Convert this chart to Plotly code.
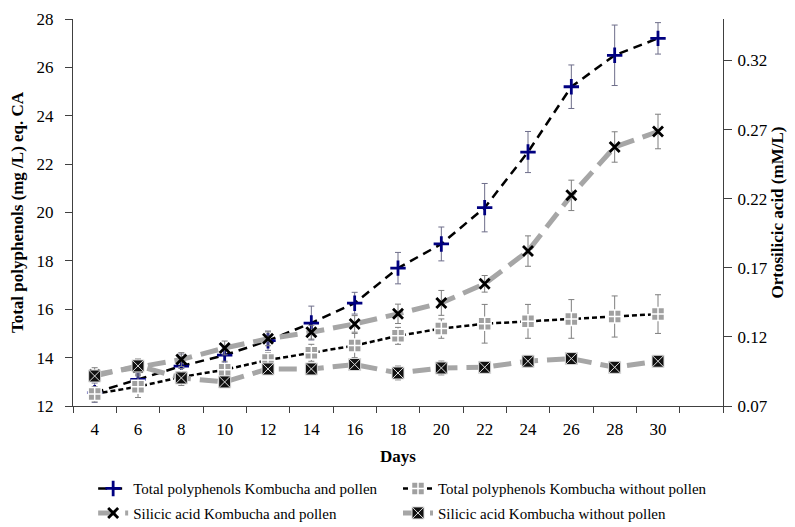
import plotly.graph_objects as go

days = [4, 6, 8, 10, 12, 14, 16, 18, 20, 22, 24, 26, 28, 30]

tp_pollen = [12.55, 13.1, 13.65, 14.1, 14.7, 15.43, 16.25, 17.7, 18.7, 20.2, 22.5, 25.2, 26.5, 27.2]
tp_pollen_err = [0.4, 0.3, 0.5, 0.3, 0.4, 0.7, 0.45, 0.65, 0.7, 1.0, 0.85, 0.9, 1.25, 0.65]

tp_nopollen = [12.5, 12.8, 13.2, 13.5, 13.9, 14.2, 14.5, 14.9, 15.2, 15.4, 15.5, 15.6, 15.7, 15.8]
tp_nopollen_err = [0.3, 0.45, 0.35, 0.35, 0.3, 0.35, 0.5, 0.35, 0.4, 0.8, 0.7, 0.8, 0.85, 0.8]

si_pollen = [0.0927, 0.098, 0.1036, 0.112, 0.1186, 0.1234, 0.1294, 0.1367, 0.1446, 0.1584, 0.1821, 0.2224, 0.2574, 0.2686]
si_pollen_err = [0.005, 0.005, 0.005, 0.005, 0.005, 0.005, 0.006, 0.007, 0.009, 0.006, 0.011, 0.011, 0.011, 0.0125]

si_nopollen = [0.0917, 0.099, 0.0903, 0.0874, 0.0968, 0.0968, 0.1, 0.0939, 0.0975, 0.098, 0.1024, 0.1043, 0.098, 0.1024]
si_nopollen_err = [0.004, 0.005, 0.004, 0.004, 0.004, 0.004, 0.004, 0.005, 0.005, 0.003, 0.004, 0.004, 0.004, 0.003]

x_ticks = [4, 6, 8, 10, 12, 14, 16, 18, 20, 22, 24, 26, 28, 30]
x_boundaries = [3, 5, 7, 9, 11, 13, 15, 17, 19, 21, 23, 25, 27, 29, 31, 33]
y2_ticks = [0.07, 0.12, 0.17, 0.22, 0.27, 0.32]

FONT = "Liberation Serif"
GRAY = "#A6A6A6"
ERR = "#7F7F7F"

fig = go.Figure()

fig.add_trace(go.Scatter(
    x=days, y=tp_pollen, name="Total polyphenols Kombucha and pollen",
    mode="lines+markers", legend="legend", legendgroup="a",
    line=dict(color="black", width=2.5, dash="9px,6px"),
    marker=dict(symbol="cross-thin", size=11, line=dict(color="#000080", width=2.8)),
    error_y=dict(type="data", array=tp_pollen_err, color="#6E6E8A", thickness=1, width=3),
    yaxis="y",
))
fig.add_trace(go.Scatter(
    x=days, y=tp_nopollen, name="Total polyphenols Kombucha without pollen",
    mode="lines+markers", legend="legend2", legendgroup="b",
    line=dict(color="black", width=2.5, dash="5px,3px"),
    marker=dict(symbol="square-cross", size=13, color="#A0A0A0", line=dict(color="white", width=1.5)),
    error_y=dict(type="data", array=tp_nopollen_err, color=ERR, thickness=1, width=3),
    yaxis="y",
))
fig.add_trace(go.Scatter(
    x=days, y=si_pollen, name="Silicic acid Kombucha and pollen",
    mode="lines+markers", legend="legend", legendgroup="c",
    line=dict(color=GRAY, width=5, dash="18px,9px"),
    marker=dict(symbol="x-thin", size=10, line=dict(color="black", width=2.8)),
    error_y=dict(type="data", array=si_pollen_err, color=ERR, thickness=1, width=3),
    yaxis="y2",
))
fig.add_trace(go.Scatter(
    x=days, y=si_nopollen, name="Silicic acid Kombucha without pollen",
    mode="lines+markers", legend="legend2", legendgroup="d",
    line=dict(color=GRAY, width=5, dash="18px,9px"),
    marker=dict(symbol="square-x", size=12, color="#111111", line=dict(color="#DDDDDD", width=1)),
    error_y=dict(type="data", array=si_nopollen_err, color=ERR, thickness=1, width=3),
    yaxis="y2",
))

legend_common = dict(
    orientation="v", y=-0.171, xanchor="left", yanchor="top",
    font=dict(family=FONT, size=15), tracegroupgap=2, itemwidth=30,
    bgcolor="rgba(0,0,0,0)",
)

fig.update_layout(
    width=795, height=527,
    margin=dict(l=65, r=80, t=11, b=129, autoexpand=False),
    plot_bgcolor="white", paper_bgcolor="white",
    font=dict(family=FONT, color="black", size=17),
    showlegend=True,
    legend=dict(x=0.031, **legend_common),
    legend2=dict(x=0.5, **legend_common),
    xaxis=dict(
        range=[3, 33], tickvals=x_ticks, ticktext=[str(d) for d in x_ticks],
        ticks="", showgrid=False, zeroline=False,
        showline=True, linecolor="#404040", linewidth=1,
        tickfont=dict(family=FONT, size=17), ticklabelstandoff=8,
        minor=dict(tickvals=x_boundaries, ticks="outside", ticklen=6, tickcolor="#404040", showgrid=False),
        title=dict(text="<b>Days</b>", font=dict(family=FONT, size=17), standoff=11),
    ),
    yaxis=dict(
        range=[12, 28], dtick=2, tick0=12,
        ticks="outside", ticklen=7, tickcolor="#404040",
        showgrid=False, zeroline=False,
        showline=True, linecolor="#404040", linewidth=1,
        tickfont=dict(family=FONT, size=17), ticklabelstandoff=8,
        title=dict(text="<b>Total polyphenols (mg /L) eq. CA</b>", font=dict(family=FONT, size=17), standoff=14),
    ),
    yaxis2=dict(
        overlaying="y", side="right",
        range=[0.07, 0.35], tickvals=y2_ticks,
        ticktext=["%.2f" % v for v in y2_ticks],
        ticks="outside", ticklen=8, tickcolor="#404040",
        showgrid=False, zeroline=False,
        showline=True, linecolor="#404040", linewidth=1,
        tickfont=dict(family=FONT, size=17), ticklabelstandoff=2,
        title=dict(text="<b>Ortosilicic acid (mM/L)</b>", font=dict(family=FONT, size=17), standoff=4),
    ),
)

fig.write_html("out.html")
